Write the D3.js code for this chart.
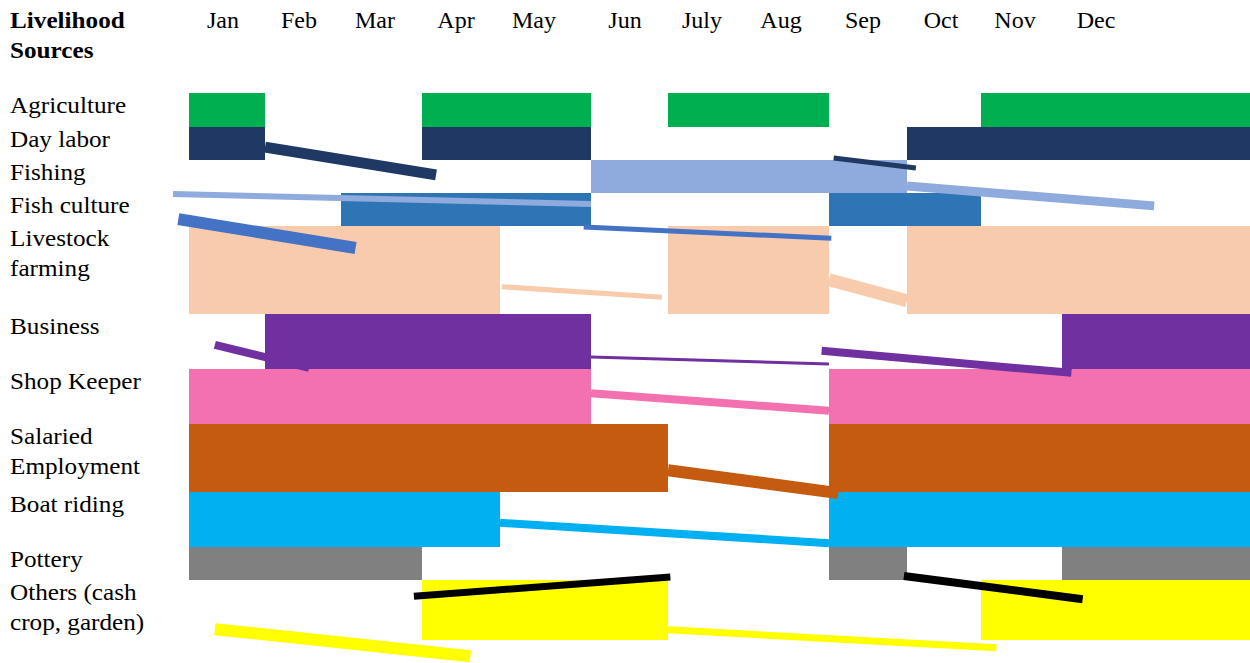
<html>
<head>
<meta charset="utf-8">
<style>
    body { margin: 0; background: #fff; }
</style>
</head>
<body>
    <svg id="container" width="1250" height="663">
        <rect width="1250" height="663" fill="white" />
        <g id="body" />
    </svg>
</body>
<script src="https://cdn.jsdelivr.net/npm/d3@7"></script>
<script>
    let months = ["Jan", "Feb", "Mar", "Apr", "May", "Jun", "July", "Aug", "Sep", "Oct", "Nov", "Dec"]

    let sources = ["Agriculture", "Day labor", "Fishing", "Fish culture", "Livestock farming", "Business",
        "Shop Keeper", "Salaried Employment", "Boat riding", "Pottery", "Others (cash crop, garden)"]

    // how each label wraps in the first column
    let sourceLines = [["Agriculture"], ["Day labor"], ["Fishing"], ["Fish culture"], ["Livestock", "farming"],
        ["Business"], ["Shop Keeper"], ["Salaried", "Employment"], ["Boat riding"], ["Pottery"],
        ["Others (cash", "crop, garden)"]]

    // active months per source, [first month, last month] (1 = Jan)
    let activeMonths = [
        [[1, 1], [4, 5], [7, 8], [11, 12]],
        [[1, 1], [4, 5], [10, 12]],
        [[6, 9]],
        [[3, 5], [9, 10]],
        [[1, 4], [7, 8], [10, 12]],
        [[2, 5], [12, 12]],
        [[1, 5], [9, 12]],
        [[1, 6], [9, 12]],
        [[1, 4], [9, 12]],
        [[1, 3], [9, 9], [12, 12]],
        [[4, 6], [11, 12]]
    ]

    // stray connector strokes: month units (0 = start of Jan) / row units (0 = top of first row)
    let strokeSeries = ["Day labor", "Fishing", "blue", "blue", "Livestock farming", "Livestock farming",
        "Day labor", "Fishing", "Business", "Business", "Business", "Shop Keeper",
        "Salaried Employment", "Boat riding", "black", "black", "Others (cash crop, garden)", "Others (cash crop, garden)"]
    let strokeFrom = [[1.0, 1.61], [-0.21, 3.03], [-0.14, 3.79], [4.92, 4.01], [4.02, 4.69], [8.0, 4.61],
        [8.06, 1.94], [9.0, 2.79], [0.34, 5.56], [5.0, 5.78], [7.91, 5.67], [5.0, 6.44],
        [6.0, 7.68], [4.0, 8.56], [2.90, 10.27], [8.96, 9.88], [0.34, 10.82], [6.0, 10.83]]
    let strokeTo = [[3.18, 2.45], [5.0, 3.33], [2.18, 4.25], [8.03, 4.14], [5.92, 4.81], [9.0, 4.85],
        [9.12, 2.24], [11.49, 3.39], [1.58, 5.98], [8.0, 5.91], [11.05, 6.07], [8.0, 6.76],
        [8.12, 8.02], [8.0, 8.93], [6.03, 9.91], [11.11, 10.32], [3.62, 11.27], [10.19, 11.13]]

    // ---- styles / layout ----
    let colors = {
        "Agriculture": "#00B050",
        "Day labor": "#203864",
        "Fishing": "#8FAADC",
        "Fish culture": "#2E75B6",
        "Livestock farming": "#F8CBAD",
        "Business": "#7030A0",
        "Shop Keeper": "#F370B1",
        "Salaried Employment": "#C55A11",
        "Boat riding": "#00B0F0",
        "Pottery": "#808080",
        "Others (cash crop, garden)": "#FFFF00",
        "blue": "#4472C4",
        "black": "#000000"
    }
    let strokeWidths = [11, 6, 12, 5, 5, 13, 5, 9, 8, 3, 8, 8, 12, 8, 7, 8, 12, 7]
    let rowHeights = [34, 33, 33, 33, 88, 55, 55, 68, 55, 33, 60]
    let fontSize = 24
    let fontName = "Liberation Serif"

    let body = d3.select("#body")

    // month edges are not evenly spaced in the original table
    let x = d3.scaleLinear()
        .domain(d3.range(13))
        .range([189, 265, 341, 422, 500, 591, 668, 747, 829, 907, 981, 1062, 1250])

    let tops = [93]
    rowHeights.forEach(h => tops.push(tops[tops.length - 1] + h))
    let y = d3.scaleLinear()
        .domain(d3.range(tops.length))
        .range(tops)

    // bars
    let rows = body.selectAll("g.row").data(sources)
        .enter().append("g")
        .attr("class", "row")

    rows.selectAll("rect").data((d, i) => activeMonths[i].map(p => ({ source: d, row: i, from: p[0], to: p[1] })))
        .enter().append("rect")
        .attr("x", d => x(d.from - 1))
        .attr("width", d => x(d.to) - x(d.from - 1))
        .attr("y", d => y(d.row))
        .attr("height", d => y(d.row + 1) - y(d.row))
        .attr("fill", d => colors[d.source])
        .attr("shape-rendering", "crispEdges")

    // connector strokes on top
    body.selectAll("line.stroke").data(strokeSeries)
        .enter().append("line")
        .attr("class", "stroke")
        .attr("x1", (d, i) => x(strokeFrom[i][0]))
        .attr("y1", (d, i) => y(strokeFrom[i][1]))
        .attr("x2", (d, i) => x(strokeTo[i][0]))
        .attr("y2", (d, i) => y(strokeTo[i][1]))
        .attr("stroke", d => colors[d])
        .attr("stroke-width", (d, i) => strokeWidths[i])
        .attr("stroke-linecap", "butt")

    // row labels
    let labels = body.selectAll("text.source").data(sourceLines)
        .enter().append("text")
        .attr("class", "source")
        .attr("x", 10)
        .attr("y", (d, i) => y(i) + 20)
        .style("font-family", fontName)
        .style("font-size", fontSize + "px")
        .attr("transform", "translate(10,0) scale(1.05,1) translate(-10,0)")
    labels.selectAll("tspan").data(d => d)
        .enter().append("tspan")
        .attr("x", 10)
        .attr("dy", (d, i) => i ? 30 : 0)
        .text(d => d)

    // header
    body.append("text")
        .attr("x", 10).attr("y", 28)
        .style("font-family", fontName)
        .style("font-size", fontSize + "px")
        .style("font-weight", "bold")
        .attr("transform", "translate(10,0) scale(1.05,1) translate(-10,0)")
        .selectAll("tspan").data(["Livelihood", "Sources"])
        .enter().append("tspan")
        .attr("x", 10)
        .attr("dy", (d, i) => i ? 30 : 0)
        .text(d => d)

    // month headings sit a little in from each column's left edge
    body.selectAll("text.month").data(months)
        .enter().append("text")
        .attr("class", "month")
        .attr("x", (d, i) => x(i) + 34)
        .attr("y", 28)
        .attr("text-anchor", "middle")
        .style("font-family", fontName)
        .style("font-size", fontSize + "px")
        .text(d => d)
</script>
</html>
